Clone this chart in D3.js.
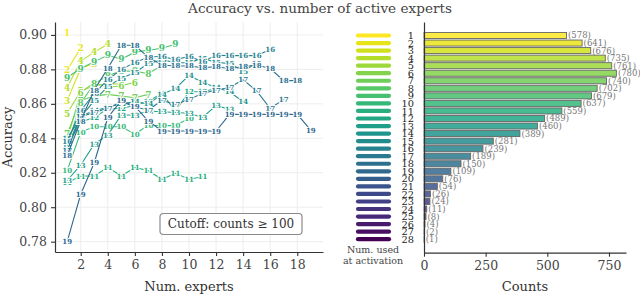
<!DOCTYPE html>
<html><head><meta charset="utf-8">
<script src="https://cdn.jsdelivr.net/npm/d3@7"></script>
<style>
body{margin:0;background:#fff}
svg{display:block}
text{font-family:"DejaVu Serif",serif}
</style>
</head><body>
<svg id="c" width="640" height="294"></svg>
<script>
// ---- Left panel data: accuracy vs number of experts, one array per "num used at activation" ----
const acc1  = [0.901];
const acc2  = [0.8795, 0.8925];
const acc3  = [0.862, 0.8805, 0.8835];
const acc4  = [0.8695, 0.8848, 0.890, 0.8946];
const acc5  = [0.8544, 0.8675, 0.8705, 0.8715, 0.8715];
const acc6  = [0.8395, 0.8665, 0.8725, 0.8695, 0.8705, 0.8725];
const acc7  = [0.8425, 0.862, 0.8645, 0.8655, 0.8645, 0.8635, 0.8655];
const acc8  = [0.8355, 0.8605, 0.8715, 0.8765, 0.879, 0.879, 0.8775, 0.8824];
const acc9  = [0.8753, 0.8805, 0.8845, 0.8882, 0.8859, 0.890, 0.8911, 0.8923, 0.8946];
const acc10 = [0.8212, 0.8436, 0.8467, 0.8467, 0.8467, 0.8424, 0.8477, 0.8472, 0.8475, 0.8515];
const acc11 = [0.8142, 0.8181, 0.8181, 0.8231, 0.8181, 0.8231, 0.8212, 0.8162, 0.8197, 0.8162, 0.8177];
const acc12 = [0.8355, 0.8495, 0.852, 0.8573, 0.8573, 0.859, 0.8615, 0.866, 0.8558, 0.867, 0.867, 0.8689];
const acc13 = [0.8155, 0.8245, 0.8366, 0.8419, 0.8535, 0.8535, 0.8558, 0.8554, 0.855, 0.8545, 0.8521, 0.859, 0.8568];
const acc14 = [0.835, 0.853, 0.856, 0.858, 0.86, 0.8612, 0.86, 0.8655, 0.8689, 0.8765, 0.8725, 0.8695, 0.867, 0.8612];
const acc15 = [0.84, 0.852, 0.862, 0.87, 0.875, 0.878, 0.8835, 0.8855, 0.884, 0.8838, 0.8865, 0.884, 0.8835, 0.879, 0.8835];
const acc16 = [0.838, 0.856, 0.866, 0.874, 0.88, 0.884, 0.887, 0.8876, 0.8855, 0.8876, 0.8845, 0.8882, 0.888, 0.888, 0.888, 0.8915];
const acc17 = [0.833, 0.8525, 0.855, 0.8575, 0.8612, 0.8583, 0.8563, 0.8621, 0.8595, 0.8626, 0.866, 0.868, 0.8695, 0.874, 0.8675, 0.8573, 0.8626];
const acc18 = [0.83, 0.85, 0.868, 0.8806, 0.894, 0.894, 0.887, 0.8825, 0.882, 0.882, 0.881, 0.8815, 0.8805, 0.8815, 0.8825, 0.8805, 0.8735, 0.8735];
const acc19 = [0.78, 0.8075, 0.8258, 0.852, 0.862, 0.8585, 0.85, 0.8442, 0.8442, 0.8442, 0.8442, 0.8442, 0.8539, 0.8539, 0.8539, 0.8539, 0.8539, 0.8539, 0.8448];
const seriesIds = [1,2,3,4,5,6,7,8,9,10,11,12,13,14,15,16,17,18,19];
const seriesAcc = [acc1,acc2,acc3,acc4,acc5,acc6,acc7,acc8,acc9,acc10,acc11,acc12,acc13,acc14,acc15,acc16,acc17,acc18,acc19];
const xTicksL = [2,4,6,8,10,12,14,16,18];
const yTicksL = [0.78,0.80,0.82,0.84,0.86,0.88,0.90];

// ---- Right panel data ----
const numUsed = ["1","2","3","4","5","6","7","8","9","10","11","12","13","14","15","16","17","18","19","20","21","22","23","24","25","26","27","28"];
const counts = [578,641,676,735,761,780,740,702,679,637,559,489,460,389,281,239,189,150,109,76,54,26,24,11,8,4,2,1];
const xTicksR = [0,250,500,750];

const svg = d3.select("#c");
const color = k => d3.interpolateViridis(1 - (k-1)/27);

// Title
svg.append("text").attr("x",320).attr("y",13).attr("text-anchor","middle")
  .attr("font-size",13.6).attr("fill","#444").text("Accuracy vs. number of active experts");

// ================= LEFT PANEL =================
const xL = d3.scaleLinear().domain([0.1,19.9]).range([55,323]);
const yL = d3.scaleLinear().domain([0.774,0.9075]).range([252,22]);
const gL = svg.append("g");
// grid
gL.append("g").selectAll("line.gx").data(xTicksL).join("line")
  .attr("x1",d=>xL(d)).attr("x2",d=>xL(d)).attr("y1",22).attr("y2",252)
  .attr("stroke","#ebebeb").attr("stroke-width",0.9);
gL.append("g").selectAll("line.gy").data(yTicksL).join("line")
  .attr("y1",d=>yL(d)).attr("y2",d=>yL(d)).attr("x1",55).attr("x2",323)
  .attr("stroke","#ebebeb").attr("stroke-width",0.9);

// axes
const axL = gL.append("g").attr("transform","translate(55,0)")
  .call(d3.axisLeft(yL).tickValues(yTicksL).tickFormat(d3.format(".2f")).tickSize(4).tickSizeOuter(0).tickPadding(4));
const axB = gL.append("g").attr("transform","translate(0,252)")
  .call(d3.axisBottom(xL).tickValues(xTicksL).tickSize(4).tickSizeOuter(0).tickPadding(4));
[axL,axB].forEach(a=>{
  a.select(".domain").attr("stroke","#333").attr("stroke-width",1.2);
  a.selectAll(".tick line").attr("stroke","#333").attr("stroke-width",1.1);
  a.selectAll(".tick text").attr("font-family","DejaVu Serif").attr("font-size",12.5).attr("fill","#444");
});
svg.append("text").attr("transform","translate(12,137) rotate(-90)").attr("text-anchor","middle")
  .attr("font-size",13).attr("fill","#333").text("Accuracy");
svg.append("text").attr("x",189).attr("y",291).attr("text-anchor","middle")
  .attr("font-size",13).attr("fill","#333").text("Num. experts");

// series
const line = d3.line().x((d,i)=>xL(i+1)).y(d=>yL(d));
seriesIds.forEach((k,si)=>{
  const data = seriesAcc[si];
  const g = gL.append("g");
  g.append("path").datum(data).attr("d",line).attr("fill","none")
    .attr("stroke",color(k)).attr("stroke-width",1.1);
  g.selectAll("text").data(data).join("text")
    .attr("x",(d,i)=>xL(i+1)).attr("y",d=>yL(d)).attr("dy","0.36em")
    .attr("text-anchor","middle").attr("font-size",k<10?9:7).attr("font-weight","bold")
    .attr("fill",color(k)).attr("stroke","#fff").attr("stroke-width",2)
    .attr("stroke-linejoin","round").attr("paint-order","stroke").text(k);
});

// cutoff box
svg.append("rect").attr("x",160).attr("y",213.5).attr("width",142).attr("height",21).attr("rx",3.5)
  .attr("fill","#fff").attr("stroke","#8a8a8a").attr("stroke-width",1.2);
svg.append("text").attr("x",231).attr("y",224).attr("dy","0.35em").attr("text-anchor","middle")
  .attr("font-size",12).attr("fill","#333").text("Cutoff: counts \u2265 100");

// ================= RIGHT PANEL =================
const xR = d3.scaleLinear().domain([0,819]).range([424,626]);
const yR = d3.scaleLinear().domain([-1.79,28.79]).range([22,252.7]);
const bh = (yR(1)-yR(0))*0.8;
const gR = svg.append("g");
gR.selectAll("rect").data(counts).join("rect")
  .attr("x",xR(0)).attr("y",(d,i)=>yR(i)-bh/2).attr("width",d=>xR(d)-xR(0)).attr("height",bh)
  .attr("fill",(d,i)=>color(i+1)).attr("fill-opacity",0.85)
  .attr("stroke","#666").attr("stroke-width",0.9);
gR.selectAll("text.cnt").data(counts).join("text").attr("class","cnt")
  .attr("x",d=>xR(d)+1.5).attr("y",(d,i)=>yR(i)).attr("dy","0.35em")
  .attr("font-size",8.5).attr("fill","#777").text(d=>"("+d+")");

const axR = gR.append("g").attr("transform","translate(0,252.7)")
  .call(d3.axisBottom(xR).tickValues(xTicksR).tickSize(4).tickSizeOuter(0).tickPadding(4));
axR.select(".domain").attr("stroke","#333").attr("stroke-width",1.2);
axR.selectAll(".tick line").attr("stroke","#333").attr("stroke-width",1.1);
axR.selectAll(".tick text").attr("font-family","DejaVu Serif").attr("font-size",12.5).attr("fill","#444");
const axRL = gR.append("g").attr("transform","translate(424,0)")
  .call(d3.axisLeft(yR).tickValues(d3.range(numUsed.length)).tickFormat(i=>numUsed[i]).tickSize(0).tickSizeOuter(0).tickPadding(10));
axRL.select(".domain").attr("stroke","#333").attr("stroke-width",1.2);
axRL.selectAll(".tick text").attr("font-family","DejaVu Serif").attr("font-size",9.8).attr("fill","#222");

// swatches
gR.selectAll("line.sw").data(numUsed).join("line")
  .attr("x1",358).attr("x2",389).attr("y1",(d,i)=>yR(i)).attr("y2",(d,i)=>yR(i))
  .attr("stroke",(d,i)=>color(i+1)).attr("stroke-width",4.2).attr("stroke-linecap","round");
svg.append("text").attr("x",373).attr("y",250).attr("dy","0.35em").attr("text-anchor","middle")
  .attr("font-size",9.5).attr("fill","#444").text("Num. used");
svg.append("text").attr("x",373).attr("y",260.5).attr("dy","0.35em").attr("text-anchor","middle")
  .attr("font-size",9.5).attr("fill","#444").text("at activation");
svg.append("text").attr("x",525).attr("y",291).attr("text-anchor","middle")
  .attr("font-size",13).attr("fill","#333").text("Counts");
</script>
</body></html>
